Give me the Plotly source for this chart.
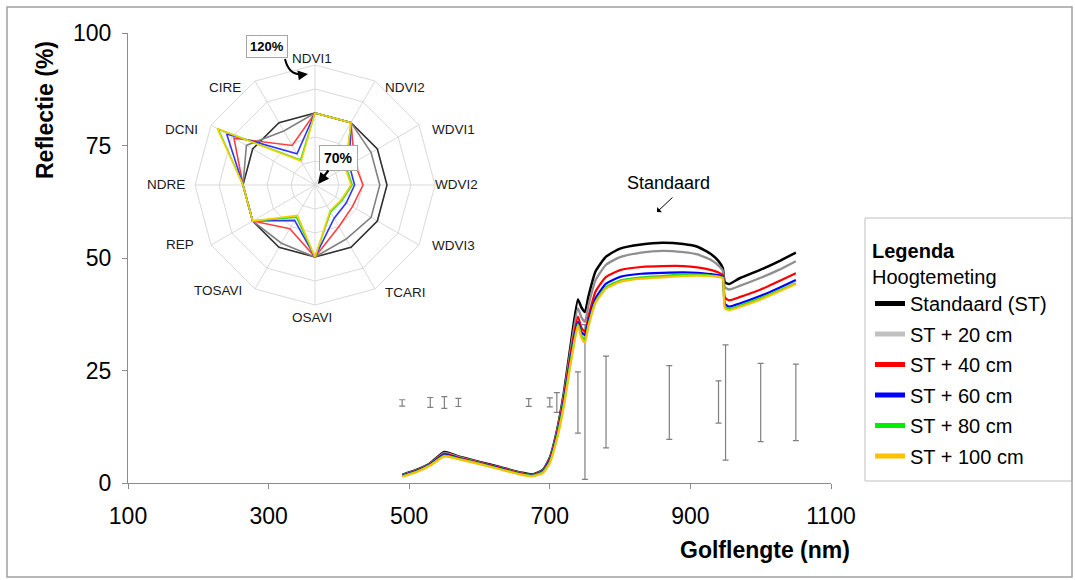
import plotly.graph_objects as go

FONT = "Liberation Sans, Arial, sans-serif"

# ---------------- spectral data ----------------
WL = [490, 510, 530, 550, 570, 600, 630, 660, 675, 690, 700, 710, 720, 730, 740, 745,
      750, 755, 765, 780, 800, 830, 860, 890, 910, 930, 940, 946, 949, 955, 970, 1000,
      1025, 1050]

ST = [1.8, 2.9, 4.4, 6.9, 5.9, 4.7, 3.5, 2.3, 1.9, 2.9, 5.6, 11.5, 20.0, 31.0, 40.8, 39.0,
      38.0, 41.5, 47.0, 50.3, 52.1, 53.0, 53.4, 53.1, 52.5, 50.8, 49.3, 47.8, 44.6, 44.2,
      45.5, 47.4, 49.2, 51.2]
ST20 = [1.7, 2.8, 4.3, 6.7, 5.8, 4.6, 3.4, 2.2, 1.8, 2.8, 5.4, 11.2, 19.5, 30.0, 38.8, 36.8,
        35.8, 39.5, 45.0, 48.5, 50.2, 51.2, 51.6, 51.3, 50.8, 49.5, 48.3, 47.2, 43.5, 43.0,
        43.8, 45.6, 47.3, 49.3]
ST40 = [1.6, 2.7, 4.2, 6.5, 5.6, 4.5, 3.3, 2.1, 1.8, 2.7, 5.2, 10.8, 18.8, 28.8, 37.0, 34.5,
        33.6, 37.0, 42.5, 45.8, 47.3, 48.0, 48.2, 48.2, 47.9, 47.3, 46.8, 46.2, 41.2, 40.6,
        41.3, 43.0, 44.8, 46.6]
ST60 = [1.6, 2.6, 4.1, 6.3, 5.5, 4.4, 3.2, 2.0, 1.7, 2.6, 5.0, 10.4, 18.2, 28.0, 35.8, 33.5,
        32.9, 36.0, 41.0, 44.3, 45.8, 46.5, 46.7, 46.8, 46.7, 46.4, 46.2, 45.8, 39.8, 39.2,
        39.9, 41.6, 43.3, 45.1]
ST80 = [1.5, 2.5, 4.0, 6.1, 5.4, 4.3, 3.1, 1.9, 1.6, 2.4, 4.7, 10.0, 17.6, 27.3, 35.3, 32.8,
        31.8, 35.2, 40.3, 43.5, 45.0, 45.7, 46.0, 46.3, 46.3, 46.1, 45.9, 45.6, 39.2, 38.7,
        39.4, 41.1, 42.7, 44.4]
ST100 = [1.4, 2.4, 3.9, 5.9, 5.3, 4.2, 3.0, 1.8, 1.5, 2.2, 4.4, 9.6, 17.0, 26.8, 35.0, 32.3,
         31.2, 34.8, 40.0, 43.2, 44.7, 45.4, 45.7, 46.0, 46.1, 46.0, 45.8, 45.5, 38.8, 38.4,
         39.1, 40.8, 42.5, 44.2]

SERIES_NAMES = ["Standaard (ST)", "ST + 20 cm", "ST + 40 cm", "ST + 60 cm", "ST + 80 cm", "ST + 100 cm"]
SERIES_VALUES = [ST, ST20, ST40, ST60, ST80, ST100]
CURVE_COLORS = ["#000000", "#8f8f8f", "#ff0000", "#0000ff", "#22dd22", "#ffc000"]
LEGEND_COLORS = ["#000000", "#c0c0c0", "#ff0000", "#0000ff", "#00ee00", "#ffc000"]
CURVE_WIDTHS = [2.5, 2.3, 2.2, 2.2, 2.2, 2.2]

# ---------------- error bars ----------------
EB_X = [490, 530, 550, 570, 670, 700, 710, 740, 750, 780, 870, 940, 950, 1000, 1050]
EB_Y = [17.8, 17.9, 17.9, 17.9, 17.9, 17.9, 17.9, 17.9, 18.0, 18.0, 17.9, 18.0, 17.9, 17.9, 17.9]
EB_ERR = [0.7, 1.1, 1.3, 0.9, 0.85, 1.0, 2.2, 6.8, 17.2, 10.2, 8.2, 4.7, 12.8, 8.7, 8.5]

# ---------------- radar data ----------------
RADAR_CATS = ["NDVI1", "NDVI2", "WDVI1", "WDVI2", "WDVI3", "TCARI", "OSAVI", "TOSAVI",
              "REP", "NDRE", "DCNI", "CIRE"]
R_ST = [100, 100, 100, 100, 100, 100, 100, 100, 100, 100, 100, 100]
R_ST20 = [100, 100, 97, 97, 97, 96, 100, 98, 100, 100, 103, 96]
R_ST40 = [100, 100, 89, 90, 88, 90, 100, 91, 100, 100, 109, 89]
R_ST60 = [100, 100, 86.5, 86.5, 85, 86, 100, 87, 100, 100, 112.5, 85]
R_ST80 = [100, 100, 85, 85.5, 83, 83, 100, 85.5, 100, 100, 116.5, 82]
R_ST100 = [100, 100, 84.5, 85, 82.5, 82.5, 100, 84.6, 100, 100, 117, 81.5]
RADAR_VALUES = [R_ST, R_ST20, R_ST40, R_ST60, R_ST80, R_ST100]
RADAR_COLORS = ["#333333", "#808080", "#ff4040", "#3333ff", "#33dd33", "#f5d000"]

# pixel positions of the radar category labels (layout only)
RADAR_LABEL_POS = [(312, 58), (405, 87), (453, 129), (456, 185), (453, 245), (405, 292),
                   (312, 317), (218, 291), (180, 244), (166, 185), (181, 130), (225, 87)]

# ---------------- layout helpers (pixel -> paper) ----------------
L, R, T, B = 128, 831, 33, 483
def PX(x):
    return (x - L) / (R - L)
def PY(y):
    return (B - y) / (B - T)

fig = go.Figure()

# error bars (behind curves)
fig.add_trace(go.Scatter(
    x=EB_X, y=EB_Y, mode="markers",
    marker=dict(size=1, color="rgba(0,0,0,0)"),
    error_y=dict(type="data", array=EB_ERR, color="#808080", thickness=1.2, width=3),
    showlegend=False, hoverinfo="skip"))

for vals, col, w in zip(SERIES_VALUES, CURVE_COLORS, CURVE_WIDTHS):
    fig.add_trace(go.Scatter(
        x=WL, y=vals, mode="lines",
        line=dict(color=col, width=w, shape="spline", smoothing=0.5),
        showlegend=False, hoverinfo="skip"))

# legend entries
for name, col in zip(SERIES_NAMES, LEGEND_COLORS):
    fig.add_trace(go.Scatter(
        x=[None], y=[None], mode="lines", name=name, legendgroup=name,
        line=dict(color=col, width=5), showlegend=True))

# radar
for vals, col in zip(RADAR_VALUES, RADAR_COLORS):
    fig.add_trace(go.Scatterpolar(
        r=vals + [vals[0]], theta=RADAR_CATS + [RADAR_CATS[0]], mode="lines",
        line=dict(color=col, width=1.6), showlegend=False, hoverinfo="skip"))

axis_common = dict(showline=True, linecolor="#8c8c8c", linewidth=1, ticks="outside",
                   ticklen=5, tickcolor="#8c8c8c", showgrid=False, zeroline=False,
                   tickfont=dict(size=23, color="#000000", family=FONT))

fig.update_layout(
    width=1075, height=580,
    margin=dict(l=L, r=1075 - R, t=T, b=580 - B),
    paper_bgcolor="white", plot_bgcolor="white",
    font=dict(family=FONT, color="#000000"),
    xaxis=dict(range=[100, 1100], tick0=100, dtick=200, ticklabelstandoff=7, **axis_common),
    yaxis=dict(range=[0, 100], tick0=0, dtick=25, ticklabelstandoff=6, **axis_common),
    legend=dict(x=PX(870), y=PY(232), xanchor="left", yanchor="top",
                borderwidth=0, bgcolor="rgba(0,0,0,0)",
                font=dict(size=20, family=FONT, color="#000000"),
                title=dict(text="<b>Legenda</b><br>Hoogtemeting", font=dict(size=20, family=FONT)),
                itemwidth=30, tracegroupgap=1.5),
    polar=dict(
        domain=dict(x=[PX(195), PX(435)], y=[PY(305), PY(65)]),
        bgcolor="white",
        gridshape="linear",
        radialaxis=dict(range=[70, 120], tick0=70, dtick=10, showticklabels=False, ticks="",
                        showline=False, gridcolor="#d9d9d9", gridwidth=1),
        angularaxis=dict(direction="clockwise", rotation=90, gridcolor="#d9d9d9",
                         linecolor="#d9d9d9", showline=True, ticks="",
                         showticklabels=False),
    ),
)

C = dict(xref="paper", yref="paper", xanchor="center", yanchor="middle")
anns = []
# radar category labels
for cat, (lx, ly) in zip(RADAR_CATS, RADAR_LABEL_POS):
    anns.append(dict(x=PX(lx), y=PY(ly), text=cat, showarrow=False,
                     font=dict(size=13.5, family=FONT, color="#1a1a1a"), **C))
# axis titles
anns.append(dict(x=PX(45), y=PY(110), text="<b>Reflectie (%)</b>",
                 textangle=-90, showarrow=False, font=dict(size=23, family=FONT), **C))
anns.append(dict(x=PX(765), y=PY(550), text="<b>Golflengte (nm)</b>",
                 showarrow=False, font=dict(size=23, family=FONT), **C))
# Standaard label + arrow
anns.append(dict(x=PX(668), y=PY(183), text="Standaard",
                 showarrow=False, font=dict(size=18, family=FONT), **C))
anns.append(dict(x=PX(657), y=PY(212), text="",
                 showarrow=True, ax=17, ay=-16, arrowhead=1, arrowsize=1.2, arrowwidth=1,
                 arrowcolor="#000000", standoff=0, **C))
# radar range labels
anns.append(dict(x=PX(266.5), y=PY(47), text="<b>120%</b>",
                 showarrow=False, font=dict(size=13, family=FONT), bordercolor="#a6a6a6",
                 borderwidth=1, borderpad=3, bgcolor="white", **C))
anns.append(dict(x=PX(308), y=PY(74), text="",
                 showarrow=True, ax=-7, ay=1, arrowhead=2, arrowsize=1, arrowwidth=2,
                 arrowcolor="#000000", standoff=0, **C))
anns.append(dict(x=PX(318), y=PY(184), text="<b>70%</b>",
                 showarrow=True, ax=20, ay=-26, arrowhead=2, arrowsize=1, arrowwidth=2.2,
                 arrowcolor="#000000", standoff=0, font=dict(size=14, family=FONT),
                 bordercolor="#a6a6a6", borderwidth=1, borderpad=4, bgcolor="white", **C))
fig.update_layout(annotations=anns)

shapes = []
# curved arrow body for 120%
shapes.append(dict(type="path", xref="paper", yref="paper",
                   path="M {:.5f},{:.5f} Q {:.5f},{:.5f} {:.5f},{:.5f}".format(
                       PX(285), PY(59), PX(289), PY(76), PX(303), PY(74)),
                   line=dict(color="#000000", width=2)))
# legend frame
shapes.append(dict(type="rect", xref="paper", yref="paper",
                   x0=PX(865), x1=PX(1072), y0=PY(481), y1=PY(218),
                   line=dict(color="#bfbfbf", width=1), layer="below"))
# outer frame
shapes.append(dict(type="rect", xref="paper", yref="paper",
                   x0=PX(7), x1=PX(1072), y0=PY(577), y1=PY(7),
                   line=dict(color="#a0a0a0", width=1.5)))
fig.update_layout(shapes=shapes)

fig.write_html("out.html", config={"displayModeBar": False})
